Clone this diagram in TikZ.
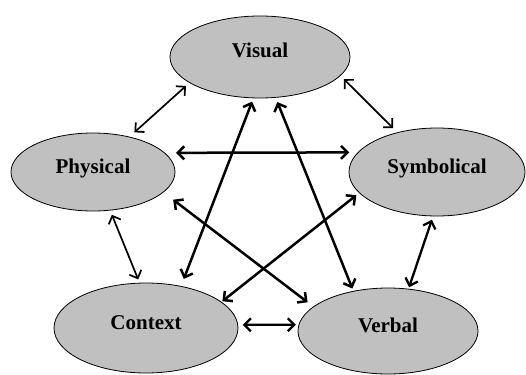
\documentclass[tikz,border=0pt]{standalone}
\usepackage{fontspec}
\setmainfont{Liberation Serif}
\usetikzlibrary{positioning,shapes.geometric,arrows.meta}
\definecolor{modegray}{RGB}{192,192,192}
\tikzset{
  mode/.style={ellipse, draw, line width=0.8pt, fill=modegray, outer sep=0pt,
    text height=14pt, text depth=12pt,
    font=\fontsize{21}{25}\selectfont\bfseries},
  link/.style={{Straight Barb[length=6.5pt,width=13pt]}-{Straight Barb[length=6.5pt,width=13pt]},
    line width=2.5pt, shorten <=5pt, shorten >=5pt},
  thinlink/.style={link, line width=1.7pt}
}
\begin{document}
\begin{tikzpicture}[x=1pt, y=-1pt, on grid]
            \useasboundingbox (0,0) rectangle (526,374);
            \node[mode, minimum width=180pt, minimum height=82pt] (visual) at (260,57) {Visual};
            \node[mode, minimum width=164pt, minimum height=78pt] (physical) [below left=115pt and 167pt of visual] {Physical};
            \node[mode, minimum width=176pt, minimum height=88pt] (symbolical) [below right=115pt and 177pt of visual] {Symbolical};
            \node[mode, minimum width=184pt, minimum height=90pt] (context) [below right=156pt and 53pt of physical] {Context};
            \node[mode, minimum width=180pt, minimum height=86pt] (verbal) [below right=3pt and 242pt of context] {Verbal};

            \path
            (physical.44) edge[thinlink, shorten <=7pt] (visual.200)
            (visual.347) edge[thinlink, shorten >=6.5pt] (symbolical.135)
            (physical.15) edge[link, shorten <=11.5pt, shorten >=9pt] (symbolical.166)
            (physical.344) edge[link, shorten <=12.5pt, shorten >=7.5pt] (verbal.162)
            (physical.294) edge[thinlink, shorten >=4pt] (context.98)
            (visual.261) edge[link, shorten <=4pt, shorten >=8pt] (context.50)
            (visual.291) edge[link, shorten >=3pt] (verbal.131)
            (symbolical.195) edge[link, shorten <=4pt, shorten >=1.5pt] (context.19)
            (symbolical.265) edge[link, line width=2.3pt, shorten <=4pt, shorten >=2pt] (verbal.64)
            (context.2) edge[link, line width=2.3pt, shorten >=3pt] (verbal.176);

        \end{tikzpicture}
\end{document}
